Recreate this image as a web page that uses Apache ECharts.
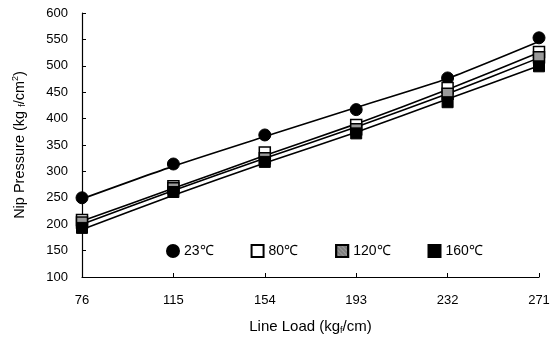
<!DOCTYPE html>
<html><head><meta charset="utf-8">
<script src="https://cdn.jsdelivr.net/npm/echarts@6/dist/echarts.min.js"></script>
<style>html,body{margin:0;padding:0;background:#fff}#c{width:552px;height:338px}</style>
</head><body><div id="c"></div>
<script>
const categories = ['76','115','154','193','232','271'];
const yTicks = [100,150,200,250,300,350,400,450,500,550,600];
// measured points
const pts23 = [250, 314, 369, 417, 477, 553];
const pts80 = [208, 272, 336, 388, 458, 526];
const pts120 = [203, 268, 325, 380, 447, 516];
const pts160 = [193, 261, 318, 372, 431, 499];
// fitted lines as drawn
const fit23 = [248, 310, 366, 421, 476, 546];
const fit80 = [206, 268, 330, 390, 455, 525];
const fit120 = [200, 264, 325, 384, 447, 515];
const fit160 = [190, 255, 316, 374, 437, 500];
const names = ['23℃','80℃','120℃','160℃'];

const font = 'Liberation Sans, Arial, sans-serif';
const chart = echarts.init(document.getElementById('c'), null, {renderer:'canvas'});
const hatch = {symbol:'rect', symbolSize:0.6, dashArrayX:[1,0], dashArrayY:[2,1], rotation:Math.PI/4, color:'rgba(0,0,0,0.6)'};
const styles = [
  {symbol:'circle', size:12, item:{color:'#000', borderColor:'#000', borderWidth:1, opacity:1}},
  {symbol:'rect', size:11, item:{color:'#fff', borderColor:'#000', borderWidth:1.5, opacity:1}},
  {symbol:'rect', size:11, item:{color:'#999', borderColor:'#000', borderWidth:1.5, opacity:1, decal:hatch}},
  {symbol:'rect', size:11, item:{color:'#000', borderColor:'#000', borderWidth:1, opacity:1}}
];
const pts = [pts23, pts80, pts120, pts160];
const fits = [fit23, fit80, fit120, fit160];
const series = [];
fits.forEach((f,i)=>{
  series.push({name:names[i]+' fit', type:'line', data:f, symbol:'none', smooth:0.2,
    lineStyle:{color:'#000', width:1.6}, z:2, silent:true});
});
pts.forEach((p,i)=>{
  series.push({name:names[i], type:'scatter', data:p, symbol:styles[i].symbol, symbolSize:styles[i].size,
    itemStyle:styles[i].item, z:3});
});
chart.setOption({
  animation:false,
  backgroundColor:'#fff',
  grid:{left:82, right:13, top:13, bottom:61, containLabel:false, outerBoundsMode:'none'},
  xAxis:{type:'category', data:categories, boundaryGap:false,
    axisLine:{lineStyle:{color:'#000', width:1.2}},
    axisTick:{inside:true, length:4, lineStyle:{color:'#000'}},
    axisLabel:{color:'#000', fontFamily:font, fontSize:13, margin:17},
    name:'Line Load (kg{s|f}/cm)', nameLocation:'middle', nameGap:42,
    nameTextStyle:{color:'#000', fontFamily:font, fontSize:15,
      rich:{s:{fontSize:9, verticalAlign:'bottom', padding:[7,0,0,0], fontFamily:font, color:'#000'}}},
    splitLine:{show:false}},
  yAxis:{type:'value', min:100, max:600, interval:50,
    axisLine:{show:true, lineStyle:{color:'#000', width:1.2}},
    axisTick:{show:true, inside:true, length:4, lineStyle:{color:'#000'}},
    axisLabel:{color:'#000', fontFamily:font, fontSize:13, margin:14},
    splitLine:{show:false},
    name:'Nip Pressure (kg {s|f}/cm{p|2})', nameLocation:'middle', nameGap:54, nameRotate:90,
    nameTextStyle:{color:'#000', fontFamily:font, fontSize:14.5,
      rich:{s:{fontSize:9, fontFamily:font, color:'#000', padding:[6,0,0,0]},
            p:{fontSize:9, fontFamily:font, color:'#000', padding:[0,0,8,0]}}}},
  legend:{data:names, left:161, top:239, itemGap:37, itemWidth:12, itemHeight:12,
    textStyle:{color:'#000', fontFamily:font, fontSize:14}, selectedMode:false},
  series:series
});
</script></body></html>
